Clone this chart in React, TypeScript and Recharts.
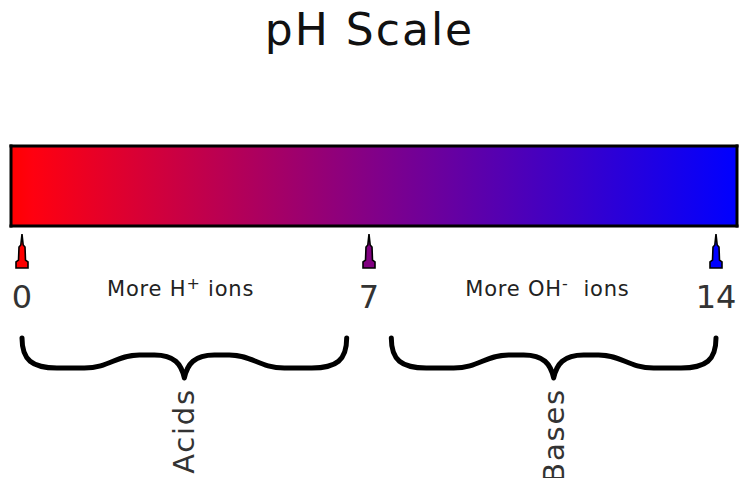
import React from "react";
import {
  CartesianGrid,
  ComposedChart,
  ReferenceArea,
  Scatter,
  XAxis,
  YAxis,
} from "recharts";

// pH values that get a pointer and a number under the bar
const markerPh = [0, 7, 14];
const markerColors = ["#ff0000", "#800080", "#0000ff"];

// text between the pointers
const ionLabelPh = [3.2, 10.6];
const ionLabels = [
  { base: "More H", sup: "+", rest: " ions" },
  { base: "More OH", sup: "-", rest: "  ions" },
];

// braces under the scale
const braceNames = ["Acids", "Bases"];
const braceFrom = [0, 7.45];
const braceTo = [6.55, 14];

const markerRows = markerPh.map((ph, i) => ({ ph, level: 0, color: markerColors[i] }));
const braceRows = braceNames.map((name, i) => ({ name, from: braceFrom[i], to: braceTo[i] }));
const allTicks = [...markerPh, ...ionLabelPh].sort((a, b) => a - b);

const FONT = "'DejaVu Sans', Verdana, sans-serif";

function Pointer(props: any) {
  const { cx, cy, payload } = props;
  const t = cy + 8;
  const pts = [
    [cx, t],
    [cx + 1.2, t + 11],
    [cx + 3, t + 13],
    [cx + 3.5, t + 26],
    [cx + 6, t + 28],
    [cx + 6, t + 34],
    [cx - 6, t + 34],
    [cx - 6, t + 28],
    [cx - 3.5, t + 26],
    [cx - 3, t + 13],
    [cx - 1.2, t + 11],
  ]
    .map((p) => p.join(","))
    .join(" ");
  return <polygon points={pts} fill={payload.color} stroke="#000" strokeWidth={1.6} strokeLinejoin="miter" />;
}

function PhTick(props: any) {
  const { x, y, payload } = props;
  const v = payload.value;
  const ionIdx = ionLabelPh.indexOf(v);
  if (ionIdx >= 0) {
    const l = ionLabels[ionIdx];
    return (
      <text x={x} y={y + 70} textAnchor="middle" fontFamily={FONT} fontSize={21} letterSpacing={0.8} fill="#222">
        <tspan>{l.base}</tspan>
        <tspan dy={-7} fontSize={16}>{l.sup}</tspan>
        <tspan dy={7} style={{ whiteSpace: "pre" }}>{l.rest}</tspan>
      </text>
    );
  }
  return (
    <text x={x} y={y + 82} textAnchor="middle" fontFamily={FONT} fontSize={32} fill="#333">
      {String(v)}
    </text>
  );
}

function Brace(props: any) {
  const { x, y, width, height, name } = props;
  const x0 = x;
  const y0 = y + height + 112;
  const W = width;
  const h = W / 2;
  const d = [
    `M ${x0} ${y0}`,
    `C ${x0} ${y0 + 22} ${x0 + 10} ${y0 + 30} ${x0 + 35} ${y0 + 30}`,
    `L ${x0 + h - 100} ${y0 + 30}`,
    `C ${x0 + h - 75} ${y0 + 30} ${x0 + h - 68} ${y0 + 17} ${x0 + h - 45} ${y0 + 17}`,
    `L ${x0 + h - 30} ${y0 + 17}`,
    `C ${x0 + h - 10} ${y0 + 17} ${x0 + h - 3} ${y0 + 26} ${x0 + h} ${y0 + 40}`,
    `C ${x0 + h + 3} ${y0 + 26} ${x0 + h + 10} ${y0 + 17} ${x0 + h + 30} ${y0 + 17}`,
    `L ${x0 + h + 45} ${y0 + 17}`,
    `C ${x0 + h + 68} ${y0 + 17} ${x0 + h + 75} ${y0 + 30} ${x0 + h + 100} ${y0 + 30}`,
    `L ${x0 + W - 35} ${y0 + 30}`,
    `C ${x0 + W - 10} ${y0 + 30} ${x0 + W} ${y0 + 22} ${x0 + W} ${y0}`,
  ].join(" ");
  const lx = x0 + h;
  const ly = y0 + 50;
  return (
    <g>
      <path d={d} fill="none" stroke="#000" strokeWidth={5} strokeLinecap="round" strokeLinejoin="round" />
      <text
        x={lx}
        y={ly}
        transform={`rotate(-90 ${lx} ${ly})`}
        textAnchor="end"
        dominantBaseline="central"
        fontFamily={FONT}
        fontSize={29}
        letterSpacing={1.8}
        fill="#333"
      >
        {name}
      </text>
    </g>
  );
}

export default function App() {
  return (
    <div style={{ position: "absolute", left: 0, top: 0, width: 739, height: 478, background: "#fff" }}>
      <div
        style={{
          position: "absolute",
          left: 0,
          top: 0,
          width: 739,
          textAlign: "center",
          fontFamily: FONT,
          fontSize: 44,
          letterSpacing: 2,
          lineHeight: "60px",
          color: "#111",
          zIndex: 2,
        }}
      >
        pH Scale
      </div>
      <ComposedChart
        width={739}
        height={478}
        data={markerRows}
        margin={{ top: 146, right: 2, bottom: 222, left: 11 }}
      >
        <defs>
          <linearGradient id="phGradient" x1="0" y1="0" x2="1" y2="0">
            <stop offset="0%" stopColor="#ff0000" />
            <stop offset="3%" stopColor="#ff0010" />
            <stop offset="50%" stopColor="#820088" />
            <stop offset="97%" stopColor="#0800f8" />
            <stop offset="100%" stopColor="#0000ff" />
          </linearGradient>
        </defs>
        <CartesianGrid
          fill="url(#phGradient)"
          fillOpacity={1}
          stroke="#000"
          strokeWidth={3}
          strokeLinecap="square"
          horizontalCoordinatesGenerator={({ offset }: any) => [offset.top, offset.top + offset.height]}
          verticalCoordinatesGenerator={({ offset }: any) => [offset.left, offset.left + offset.width]}
        />
        <XAxis
          type="number"
          dataKey="ph"
          domain={[0, 14]}
          ticks={allTicks}
          interval={0}
          padding={{ left: 11, right: 21 }}
          axisLine={false}
          tickLine={false}
          tickSize={0}
          tickMargin={0}
          height={30}
          tick={<PhTick />}
        />
        <YAxis type="number" dataKey="level" domain={[0, 1]} hide />
        {braceRows.map((b) => (
          <ReferenceArea
            key={b.name}
            x1={b.from}
            x2={b.to}
            ifOverflow="visible"
            shape={(p: any) => <Brace {...p} name={b.name} />}
          />
        ))}
        <Scatter dataKey="level" shape={<Pointer />} isAnimationActive={false} />
      </ComposedChart>
    </div>
  );
}
